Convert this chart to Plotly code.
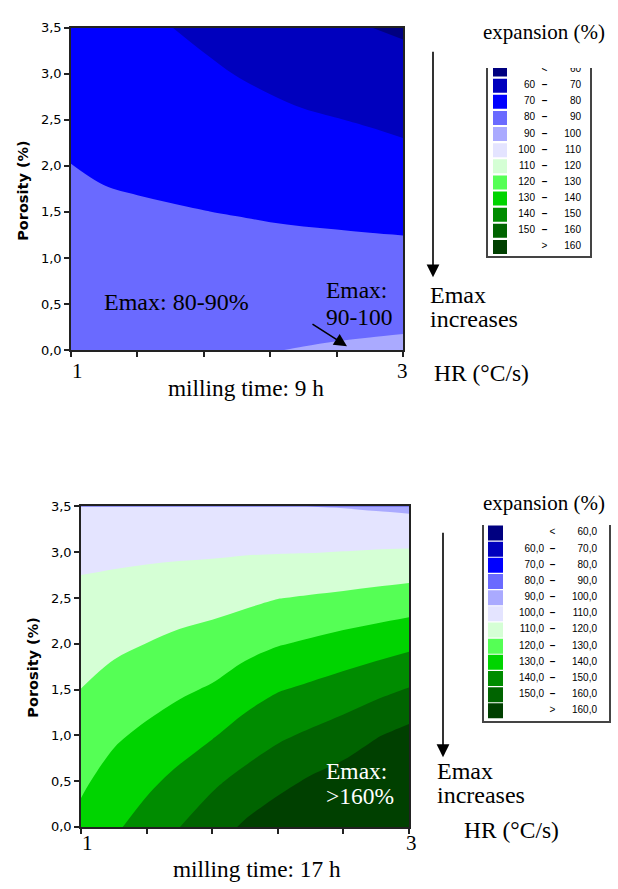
import plotly.graph_objects as go

W, H = 618, 889

# ---------------- data ----------------
hr = [1.0, 1.2, 1.4, 1.6, 1.8, 2.0, 2.2, 2.4, 2.6, 2.8, 3.0]   # heating rate axis
porosity = [0.0, 0.5, 1.0, 1.5, 2.0, 2.5, 3.0, 3.5]             # porosity axis

# expansion (%) for milling time 9 h ; rows = porosity, cols = hr
exp_9h = [
    [86.0, 86.5, 87.0, 87.7, 88.5, 89.2, 89.8, 90.3, 90.8, 91.2, 91.6],
    [84.5, 84.7, 84.9, 85.3, 85.7, 86.0, 86.3, 86.5, 86.7, 86.8, 87.0],
    [83.0, 82.9, 82.9, 82.9, 82.9, 82.9, 82.8, 82.6, 82.6, 82.4, 82.3],
    [81.5, 81.1, 80.8, 80.5, 80.1, 79.7, 79.2, 78.8, 78.4, 78.0, 77.6],
    [80.1, 79.2, 78.6, 77.9, 77.2, 76.5, 75.6, 74.9, 74.3, 73.6, 72.9],
    [77.9, 77.0, 76.3, 75.3, 74.3, 73.4, 72.0, 71.0, 70.2, 69.3, 68.1],
    [75.7, 74.8, 74.0, 72.6, 71.2, 69.8, 68.4, 66.9, 65.7, 64.7, 63.5],
    [73.5, 72.6, 71.6, 70.1, 68.6, 66.6, 64.6, 62.9, 61.3, 60.1, 58.8],
]

# expansion (%) for milling time 17 h
exp_17h = [
    [132.6, 138.5, 144.0, 149.9, 155.5, 161.4, 166.0, 170.5, 173.5, 178.4, 183.0],
    [128.5, 133.6, 138.0, 142.6, 148.3, 152.9, 157.2, 161.2, 164.5, 168.9, 172.9],
    [124.3, 128.6, 131.9, 135.4, 139.2, 144.3, 148.4, 151.5, 154.7, 159.3, 163.1],
    [120.1, 123.4, 125.9, 128.5, 131.0, 135.5, 139.4, 141.8, 144.4, 147.3, 150.6],
    [115.9, 118.2, 120.1, 122.2, 123.9, 126.7, 129.4, 131.3, 133.5, 135.6, 137.8],
    [111.8, 112.9, 114.1, 115.4, 116.5, 117.9, 119.8, 120.8, 121.8, 123.0, 124.3],
    [108.2, 108.3, 108.5, 108.7, 108.9, 109.4, 109.6, 109.8, 110.2, 110.7, 111.1],
    [105.0, 104.4, 103.8, 103.2, 102.5, 101.6, 100.7, 99.9, 99.6, 98.8, 97.9],
]

level_start, level_end, level_step = 60, 160, 10

band_colors = ["#000080", "#0000BE", "#0000FF", "#6A6AFF", "#AAAAFF", "#E4E4FF",
               "#D5FFD5", "#55FF55", "#00D400", "#008C00", "#006400", "#004000"]

legend_lo_9h = ["", "60", "70", "80", "90", "100", "110", "120", "130", "140", "150", ""]
legend_hi_9h = ["60", "70", "80", "90", "100", "110", "120", "130", "140", "150", "160", "160"]
legend_lo_17h = ["", "60,0", "70,0", "80,0", "90,0", "100,0", "110,0", "120,0",
                 "130,0", "140,0", "150,0", ""]
legend_hi_17h = ["60,0", "70,0", "80,0", "90,0", "100,0", "110,0", "120,0", "130,0",
                 "140,0", "150,0", "160,0", "160,0"]
legend_sym = ["<"] + ["<b>\u2013</b>"] * 10 + [">"]

x_ticks = [1.0, 1.4, 1.8, 2.2, 2.6, 3.0]
y_ticks = [0.0, 0.5, 1.0, 1.5, 2.0, 2.5, 3.0, 3.5]

# ---------------- figure ----------------
n = len(band_colors)
colorscale = [[k / (n - 1), c] for k, c in enumerate(band_colors)]

def px(x):
    return x / W

def py(y):
    return 1 - y / H

fig = go.Figure()

for z, xa, ya in [(exp_9h, "x", "y"), (exp_17h, "x2", "y2")]:
    fig.add_trace(go.Contour(
        x=hr, y=porosity, z=z, xaxis=xa, yaxis=ya,
        autocontour=False,
        contours=dict(start=level_start, end=level_end, size=level_step,
                      coloring="fill", showlines=False),
        colorscale=colorscale, showscale=False,
        line=dict(width=0, smoothing=1.0),
        hoverinfo="skip",
    ))

# legends as scatter traces on their own small axes
idx = list(range(n))
legend_specs = [
    ("x3", "y3", 500, 14, 535, 544.5, 581, legend_lo_9h, legend_hi_9h),
    ("x4", "y4", 495.5, 15, 544, 552.5, 597, legend_lo_17h, legend_hi_17h),
]
leg_font = dict(family="Liberation Sans, Arial", size=10, color="black")
for xa, ya, sx, ss, lx, mx, hx, lo, hi in legend_specs:
    fig.add_trace(go.Scatter(
        x=[sx] * n, y=idx, mode="markers", xaxis=xa, yaxis=ya,
        marker=dict(symbol="square", size=ss, color=band_colors, line=dict(width=0)),
        hoverinfo="skip", showlegend=False, cliponaxis=True))
    fig.add_trace(go.Scatter(
        x=[lx] * n, y=idx, mode="text", text=lo, textposition="middle left",
        textfont=leg_font, xaxis=xa, yaxis=ya, hoverinfo="skip",
        showlegend=False, cliponaxis=True))
    fig.add_trace(go.Scatter(
        x=[mx] * n, y=idx, mode="text", text=legend_sym, textposition="middle center",
        textfont=leg_font, xaxis=xa, yaxis=ya, hoverinfo="skip",
        showlegend=False, cliponaxis=True))
    fig.add_trace(go.Scatter(
        x=[hx] * n, y=idx, mode="text", text=hi, textposition="middle left",
        textfont=leg_font, xaxis=xa, yaxis=ya, hoverinfo="skip",
        showlegend=False, cliponaxis=True))

axis_common = dict(showgrid=False, zeroline=False, showline=True, mirror=True,
                   linecolor="#222", linewidth=1.5, ticks="outside", ticklen=5,
                   tickwidth=1.5, tickcolor="#222")
tick_font = dict(family="DejaVu Sans, Verdana", size=13, color="black")

fig.update_layout(
    width=W, height=H, margin=dict(l=0, r=0, t=0, b=0),
    paper_bgcolor="white", plot_bgcolor="white", showlegend=False,
    separators=", ",
    xaxis=dict(domain=[px(71), px(403)], range=[1, 3], anchor="y",
               tickvals=x_ticks, showticklabels=False, **axis_common),
    yaxis=dict(domain=[py(349), py(21)], range=[0, 3.5], anchor="x",
               tickvals=y_ticks, tickformat=".1f", tickfont=tick_font, **axis_common),
    xaxis2=dict(domain=[px(81), px(409)], range=[1, 3], anchor="y2",
                tickvals=x_ticks, showticklabels=False, **axis_common),
    yaxis2=dict(domain=[py(834), py(508)], range=[0, 3.5], anchor="x2",
                tickvals=y_ticks, tickformat=".1f", tickfont=tick_font, **axis_common),
    xaxis3=dict(domain=[px(488), px(590)], range=[488, 590], anchor="y3",
                showgrid=False, zeroline=False, showticklabels=False, ticks="",
                showline=True, linecolor="#444", linewidth=1.5),
    yaxis3=dict(domain=[py(253), py(62)], range=[(253 - 63.6) / 16.4, (62 - 63.6) / 16.4],
                anchor="x3", showgrid=False, zeroline=False, showticklabels=False,
                ticks="", showline=True, mirror=True, linecolor="#444", linewidth=1.5),
    xaxis4=dict(domain=[px(484), px(609)], range=[484, 609], anchor="y4",
                showgrid=False, zeroline=False, showticklabels=False, ticks="",
                showline=True, linecolor="#444", linewidth=1.5),
    yaxis4=dict(domain=[py(726), py(527)], range=[(726 - 535) / 16.45, (527 - 535) / 16.45],
                anchor="x4", showgrid=False, zeroline=False, showticklabels=False,
                ticks="", showline=True, mirror=True, linecolor="#444", linewidth=1.5),
)

serif = "Liberation Serif, Times New Roman, serif"
ann = []

def text(x, y, s, size=22, color="black", xanchor="center", family=serif, angle=0):
    ann.append(dict(x=px(x), y=py(y), xref="paper", yref="paper", text=s,
                    showarrow=False, xanchor=xanchor, yanchor="middle",
                    textangle=angle, font=dict(family=family, size=size, color=color)))

# axis tick labels "1" and "3"
text(77, 370, "1", size=21)
text(402, 370, "3", size=21)
text(87, 850, "1", size=21)
text(411, 850, "3", size=21)

# x titles
text(246, 388, "milling time: 9 h", size=23.3)
text(257, 877, "milling time: 17 h", size=23.3)

# y titles
text(23, 187, "<b>Porosity (%)</b>", size=14.5, family="DejaVu Sans, Verdana", angle=-90)
text(33, 672, "<b>Porosity (%)</b>", size=14.5, family="DejaVu Sans, Verdana", angle=-90)

# in-plot labels
text(176, 300, "Emax: 80-90%", size=24)
text(324, 288, "Emax:", size=23.5, xanchor="left")
text(324, 315, "90-100", size=23.5, xanchor="left")
text(324, 777, "Emax:", size=23.5, xanchor="left", color="white")
text(324, 803, ">160%", size=23.5, xanchor="left", color="white")

# legend headers and side texts
text(544, 25, "expansion (%)", size=21)
text(544, 505, "expansion (%)", size=21)
text(428, 293, "Emax", size=24, xanchor="left")
text(428, 317, "increases", size=24, xanchor="left")
text(435, 777, "Emax", size=24, xanchor="left")
text(435, 802, "increases", size=24, xanchor="left")
text(432, 372, "HR (\u00b0C/s)", size=23.5, xanchor="left")
text(462, 837, "HR (\u00b0C/s)", size=23.5, xanchor="left")

# arrows
def arrow(x0, y0, x1, y1):
    ann.append(dict(x=px(x1), y=py(y1), xref="paper", yref="paper",
                    ax=x0 - x1, ay=y0 - y1, axref="pixel", ayref="pixel",
                    text="", showarrow=True, arrowhead=2, arrowsize=1.6,
                    arrowwidth=1.6, arrowcolor="black"))

arrow(311, 322, 347, 345)
arrow(433, 48, 433, 275)
arrow(443, 537, 443, 763)

fig.update_layout(annotations=ann)
fig.write_html("out.html")
